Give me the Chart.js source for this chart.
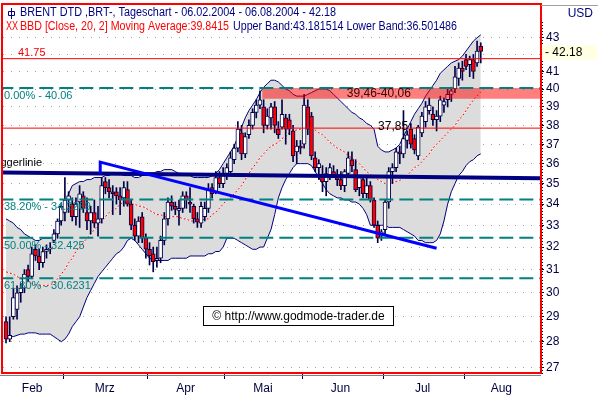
<!DOCTYPE html>
<html>
<head>
<meta charset="utf-8">
<script src="https://cdn.jsdelivr.net/npm/chart.js@4.4.1/dist/chart.umd.min.js"></script>
<style>
  body { margin: 0; background: #fff; }
  canvas { display: block; }
</style>
</head>
<body>
<canvas id="myChart" width="598" height="395"></canvas>
<script>
// BRENT DTD daily candles 06.02.2004 - 06.08.2004, index = trading day
const opens = [
  28.8, 28.1, 29.0, 29.3, 30.0, 30.2, 31.0, 30.7, 31.9, 31.6,
  31.3, 31.8, 31.9, 32.3, 32.6, 33.2, 33.6, 34.2, 34.0, 33.4,
  34.1, 34.4, 33.6, 33.2, 33.6, 33.1, 33.3, 35.1, 34.8, 34.6,
  34.6, 34.4, 34.3, 34.7, 34.0, 33.0, 32.5, 33.4, 32.4, 31.9,
  31.7, 31.4, 31.5, 32.3, 33.3, 34.1, 33.9, 33.7, 33.8, 34.4,
  34.1, 33.9, 33.3, 33.1, 33.4, 33.8, 34.8, 34.6, 35.3, 35.0,
  35.5, 35.6, 36.2, 36.8, 37.6, 36.5, 37.5, 38.0, 38.7, 39.1,
  39.0, 38.0, 38.4, 39.0, 37.8, 37.9, 38.4, 38.3, 37.7, 36.6,
  36.9, 37.0, 39.0, 38.5, 36.3, 35.8, 35.4, 35.1, 35.4, 35.6,
  35.3, 35.2, 34.9, 35.5, 36.2, 35.7, 34.8, 35.2, 34.5, 34.9,
  34.2, 33.0, 32.5, 32.8, 34.1, 35.6, 35.8, 36.6, 36.5, 37.2,
  37.8, 37.3, 36.4, 37.6, 38.2, 38.8, 38.6, 38.3, 38.5, 39.1,
  39.4, 39.7, 40.0, 40.6, 41.2, 41.7, 41.4, 41.7, 41.5, 42.5
];
const highs = [
  29.0, 29.0, 30.2, 30.3, 30.4, 31.0, 31.2, 32.0, 32.1, 31.9,
  32.0, 32.1, 32.2, 32.8, 33.3, 34.0, 35.3, 34.6, 34.3, 34.3,
  34.9, 34.6, 34.3, 33.9, 34.2, 33.9, 35.3, 35.3, 35.2, 34.9,
  34.8, 34.8, 35.1, 35.1, 34.2, 33.3, 33.4, 33.6, 32.6, 32.2,
  32.0, 32.0, 32.5, 33.6, 34.3, 34.4, 34.1, 34.2, 34.6, 34.6,
  34.8, 34.0, 33.6, 34.1, 34.1, 35.0, 35.0, 35.6, 35.6, 35.8,
  36.0, 36.6, 37.0, 38.2, 38.0, 37.6, 38.3, 38.9, 39.4, 39.9,
  39.4, 38.9, 39.2, 39.3, 38.2, 39.4, 38.6, 38.6, 38.0, 37.2,
  37.2, 39.7, 39.4, 38.7, 36.6, 36.2, 35.9, 35.8, 36.0, 35.9,
  35.7, 35.6, 35.7, 36.6, 36.6, 36.2, 35.4, 35.4, 35.3, 35.1,
  34.3, 33.2, 32.8, 34.2, 35.8, 36.0, 36.8, 36.9, 38.8, 37.7,
  38.1, 37.5, 38.0, 38.7, 39.3, 39.5, 39.0, 38.8, 39.6, 39.5,
  40.0, 40.1, 41.3, 41.5, 41.6, 42.0, 41.9, 42.0, 42.8, 42.7
];
const lows = [
  27.95, 28.0, 28.9, 28.9, 29.6, 30.0, 30.5, 30.6, 31.4, 31.0,
  31.1, 31.5, 31.7, 32.2, 32.4, 33.0, 33.2, 33.6, 33.2, 33.0,
  32.9, 33.6, 32.8, 32.6, 32.9, 32.5, 33.1, 34.5, 34.3, 33.5,
  34.0, 33.5, 33.9, 33.9, 32.8, 32.3, 32.2, 32.2, 31.5, 31.2,
  30.9, 31.1, 31.3, 32.1, 33.0, 33.7, 33.5, 33.0, 33.6, 33.8,
  33.6, 33.1, 32.9, 32.9, 33.2, 33.6, 34.3, 34.5, 34.8, 34.8,
  35.2, 35.4, 36.0, 36.6, 36.2, 36.3, 37.3, 37.8, 38.4, 38.9,
  37.6, 37.8, 37.8, 37.6, 37.3, 37.8, 37.0, 37.5, 36.1, 36.0,
  36.5, 36.8, 37.5, 36.2, 35.6, 35.2, 34.6, 34.4, 35.2, 35.3,
  34.9, 34.7, 34.6, 35.3, 35.6, 34.6, 34.4, 34.3, 34.3, 34.1,
  32.9, 32.2, 32.3, 32.6, 33.8, 35.0, 35.6, 36.0, 36.3, 36.8,
  36.8, 36.5, 36.2, 37.4, 37.9, 38.6, 38.0, 37.7, 38.2, 38.7,
  39.0, 39.3, 39.8, 40.2, 40.5, 41.1, 40.7, 40.6, 41.3, 41.5
];
const closes = [
  28.1, 28.25, 29.8, 30.0, 30.2, 30.8, 30.7, 31.7, 31.6, 31.3,
  31.8, 31.9, 31.95, 32.6, 33.2, 33.9, 34.2, 34.4, 33.4, 34.0,
  34.5, 33.8, 33.2, 33.6, 33.1, 33.3, 34.9, 34.8, 34.6, 34.5,
  34.4, 34.2, 34.8, 34.0, 33.0, 32.5, 33.2, 32.4, 31.9, 31.6,
  31.35, 31.5, 32.3, 33.3, 34.1, 33.9, 33.75, 33.8, 34.4, 34.2,
  34.0, 33.3, 33.15, 33.9, 33.8, 34.7, 34.5, 35.3, 35.0, 35.5,
  35.8, 36.3, 36.8, 37.8, 36.5, 37.4, 38.0, 38.7, 39.1, 39.4,
  38.0, 38.5, 39.0, 38.0, 37.5, 38.6, 37.8, 37.8, 36.4, 36.9,
  36.8, 39.1, 37.8, 36.4, 35.8, 36.0, 35.1, 35.5, 35.8, 35.4,
  35.2, 34.9, 35.6, 36.3, 35.9, 34.7, 35.3, 34.5, 34.9, 34.2,
  33.0, 32.4, 32.7, 34.1, 35.6, 35.8, 36.6, 36.5, 37.3, 37.5,
  37.0, 36.7, 37.9, 38.5, 39.0, 39.1, 38.3, 38.5, 39.4, 39.3,
  39.7, 39.9, 40.7, 41.2, 41.0, 41.3, 41.7, 41.0, 42.2, 42.18
];

// Bollinger bands (Close, 20, 2)
const upperBand = [
  33.3, 33.2, 33.1, 32.9, 32.8, 32.6, 32.5, 32.4, 32.3, 32.3,
  32.4, 32.4, 32.4, 32.5, 32.8, 33.3, 33.9, 34.5, 34.9, 35.0,
  35.1, 35.1, 35.2, 35.2, 35.3, 35.3, 35.3, 35.4, 35.4, 35.5,
  35.5, 35.5, 35.4, 35.4, 35.4, 35.3, 35.3, 35.4, 35.5, 35.5,
  35.5, 35.6, 35.6, 35.7, 35.7, 35.7, 35.6, 35.5, 35.5, 35.4,
  35.4, 35.3, 35.3, 35.3, 35.3, 35.3, 35.4, 35.5, 35.7, 36.0,
  36.3, 36.6, 36.9, 37.4, 37.9, 38.4, 38.8, 39.1, 39.4, 39.8,
  40.1, 40.3, 40.5, 40.5, 40.4, 40.2, 40.0, 39.9, 39.7, 39.6,
  39.6, 39.6, 39.7, 39.8, 39.9, 40.0, 40.0, 40.0, 39.9, 39.7,
  39.5, 39.3, 39.1, 38.9, 38.7, 38.6, 38.4, 38.3, 38.1, 38.0,
  37.8, 36.9, 36.7, 36.6, 36.6, 36.7, 36.8, 37.0, 37.4, 37.8,
  38.2, 38.6, 38.9, 39.2, 39.6, 39.9, 40.2, 40.5, 40.9, 41.1,
  41.3, 41.5, 41.6, 41.7, 41.9, 42.2, 42.5, 42.8, 43.0, 43.18
];
const middleBand = [
  30.9, 30.85, 30.8, 30.7, 30.6, 30.55, 30.5, 30.4, 30.35, 30.3,
  30.3, 30.3, 30.35, 30.4, 30.6, 30.8, 31.0, 31.3, 31.5, 31.8,
  32.0, 32.2, 32.4, 32.6, 32.8, 33.0, 33.2, 33.4, 33.6, 33.7,
  33.8, 34.0, 34.1, 34.1, 34.0, 34.0, 33.9, 33.9, 33.8, 33.7,
  33.6, 33.5, 33.5, 33.4, 33.4, 33.4, 33.4, 33.4, 33.3, 33.3,
  33.2, 33.2, 33.2, 33.2, 33.3, 33.3, 33.5, 33.6, 33.8, 34.0,
  34.2, 34.3, 34.5, 34.7, 34.9, 35.2, 35.5, 35.8, 36.0, 36.3,
  36.5, 36.7, 36.9, 37.0, 37.1, 37.3, 37.4, 37.6, 37.7, 37.75,
  37.8, 37.85, 37.85, 37.8, 37.75, 37.6, 37.5, 37.3, 37.1, 36.95,
  36.8, 36.7, 36.6, 36.4, 36.3, 36.1, 36.0, 35.8, 35.6, 35.45,
  35.3, 35.2, 35.1, 35.0, 35.0, 35.05, 35.1, 35.15, 35.3, 35.4,
  35.6, 35.8, 35.9, 36.1, 36.3, 36.5, 36.8, 37.0, 37.2, 37.4,
  37.6, 37.8, 38.0, 38.3, 38.5, 38.8, 39.1, 39.4, 39.6, 39.84
];
const lowerBand = [
  28.2, 28.2, 28.2, 28.25, 28.3, 28.3, 28.35, 28.35, 28.35, 28.3,
  28.3, 28.3, 28.3, 28.2, 28.1, 28.0, 28.1, 28.3, 28.6, 28.8,
  29.0, 29.4, 29.8, 30.1, 30.4, 30.7, 30.9, 31.1, 31.3, 31.5,
  31.7, 31.8, 32.0, 32.3, 32.4, 32.3, 32.1, 31.9, 31.7, 31.5,
  31.4, 31.4, 31.4, 31.4, 31.4, 31.5, 31.5, 31.5, 31.5, 31.5,
  31.6, 31.6, 31.6, 31.6, 31.6, 31.7, 31.7, 31.8, 31.8, 32.0,
  32.4, 32.4, 32.4, 32.3, 32.2, 32.1, 32.0, 31.9, 31.9, 32.0,
  32.0, 32.4, 32.8, 33.5, 34.3, 34.8, 35.2, 35.5, 35.8, 36.0,
  36.0, 36.0, 36.0, 35.9, 35.6, 35.3, 35.0, 34.7, 34.5, 34.4,
  34.3, 34.3, 34.2, 34.2, 34.1, 34.1, 34.0, 33.8, 33.5, 33.0,
  33.0, 33.0, 33.0, 33.0, 32.9, 32.9, 32.9, 32.9, 32.8, 32.7,
  32.6, 32.5, 32.3, 32.3, 32.2, 32.2, 32.2, 32.3, 32.6, 33.2,
  34.0, 34.6, 35.0, 35.4, 35.6, 35.9, 36.1, 36.2, 36.4, 36.50
];

const yTicks = [27, 28, 29, 30, 31, 32, 33, 34, 35, 36, 37, 38, 39, 40, 41, 42, 43];
const monthTicks = [15.5, 38.5, 59.5, 80.5, 102.5, 124.5];
const monthNames = ['Feb', 'Mrz', 'Apr', 'Mai', 'Jun', 'Jul', 'Aug'];
const monthLabelPos = [7.1, 26.8, 48.8, 69.8, 90.9, 113.2, 134.6];

// drawn levels
const fibLevels = [40.06, 34.2269, 32.425, 30.6231];
const fibLabels = ['0.00% - 40.06', '38.20% - 34.2269', '50.00% - 32.425', '61.80% - 30.6231'];
const redLevels = [41.75, 37.85];
const zoneLevels = [39.46, 40.06];
const zoneStart = 69.6;
const triggerLine = [[-0.82, 35.55], [145.1, 35.27]];
const trendLine = [[25.6, 35.5], [25.6, 36.08], [117, 31.95]];

const xMin = -0.82, xMax = 145.1;
const yMin = 26.75, yMax = 45.1;

const navy = '#000080';
const candleLine = '#000048';
const fontFam = '"Liberation Sans", Arial, sans-serif';

const pts = (arr) => arr.map((v, i) => ({x: i, y: v}));
const flat = (level, from, to) => [{x: from, y: level}, {x: to, y: level}];
const near = (v, list) => list.some(t => Math.abs(t - v) < 0.01);

const lineSet = (data, color, width, order, extra) => Object.assign({
    type: 'line', data: data, borderColor: color, borderWidth: width,
    pointRadius: 0, tension: 0, fill: false, order: order
}, extra || {});

// squeeze a text into a given width (the original uses a narrow bitmap font)
const fitText = (c, text, x, y, w) => {
    const m = c.measureText(text).width;
    c.save();
    c.translate(x, y);
    c.scale(w / m, 1);
    c.fillText(text, 0, 0);
    c.restore();
}

const decor = {
    id: 'decor',
    beforeDraw(chart) {
        const c = chart.ctx;
        c.save();
        c.fillStyle = '#fff';
        c.fillRect(0, 0, chart.width, chart.height);
        c.restore();
    },
    afterDraw(chart) {
        const c = chart.ctx;
        const x = chart.scales.x, y = chart.scales.y;
        const a = chart.chartArea;
        c.save();
        c.textBaseline = 'middle';
        c.textAlign = 'left';

        // level texts
        c.font = '11px ' + fontFam;
        c.fillStyle = '#008080';
        fibLevels.forEach((lv, k) => c.fillText(fibLabels[k], a.left + 1, y.getPixelForValue(lv) + 8));
        c.fillStyle = '#ff0000';
        c.fillText('41.75', 18, y.getPixelForValue(redLevels[0]) - 6);
        c.fillStyle = '#000';
        c.font = '12px ' + fontFam;
        c.fillText('37,85', x.getPixelForValue(101.1), y.getPixelForValue(redLevels[1]) - 1);
        c.fillStyle = '#400000';
        c.fillText('39,46-40,06', x.getPixelForValue(92.6), y.getPixelForValue(39.76));

        // Triggerlinie, cut at the left edge
        c.save();
        c.beginPath();
        c.rect(a.left, a.top, a.right - a.left, a.bottom - a.top);
        c.clip();
        c.fillStyle = '#000';
        c.textAlign = 'right';
        c.font = '11px ' + fontFam;
        c.fillText('Triggerlinie', 42, y.getPixelForValue(triggerLine[0][1]) - 10);
        c.restore();

        // header
        c.strokeStyle = navy;
        c.lineWidth = 1;
        c.beginPath();
        c.moveTo(11.5, 8); c.lineTo(11.5, 19);
        c.moveTo(8.5, 11.5); c.lineTo(14.5, 11.5); c.lineTo(14.5, 15.5); c.lineTo(8.5, 15.5); c.closePath();
        c.stroke();
        c.font = '12px ' + fontFam;
        c.fillStyle = navy;
        fitText(c, 'BRENT DTD ,BRT-, Tageschart - 06.02.2004 - 06.08.2004 - 42.18', 20, 13, 316);
        c.fillStyle = '#ff0000';
        fitText(c, 'XX', 6, 27, 12);
        fitText(c, 'BBD [Close, 20, 2] Moving Average:39.8415', 20, 27, 209);
        c.fillStyle = navy;
        fitText(c, 'Upper Band:43.181514 Lower Band:36.501486', 233, 27, 224);

        // copyright box
        c.fillStyle = '#fff';
        c.fillRect(203, 306, 191, 20);
        c.strokeStyle = '#000';
        c.strokeRect(203.5, 306.5, 190, 19);
        c.fillStyle = '#000';
        c.textAlign = 'center';
        c.fillText('\u00a9 http://www.godmode-trader.de', 298.5, 316.5);

        // frame
        c.strokeStyle = '#808080';
        c.beginPath(); c.moveTo(0, 375.5); c.lineTo(541, 375.5); c.stroke();
        c.strokeStyle = '#ff0000';
        c.lineWidth = 2;
        c.strokeRect(2, 4, a.right - 1, a.bottom - 4 - 1);

        // right axis decorations
        c.lineWidth = 1;
        c.strokeStyle = '#000';
        c.setLineDash([1, 2]);
        c.beginPath(); c.moveTo(542.5, 22); c.lineTo(542.5, 374); c.stroke();
        c.setLineDash([]);
        c.strokeStyle = '#a0a0a0';
        c.beginPath(); c.moveTo(541, 5.5); c.lineTo(598, 5.5); c.stroke();
        c.fillStyle = navy;
        c.textAlign = 'right';
        c.fillText('USD', 593, 14);
        const py = y.getPixelForValue(closes[closes.length - 1]);
        c.fillStyle = '#ffffe1';
        c.fillRect(542, py - 6, 55, 14);
        c.fillStyle = '#000';
        c.textAlign = 'left';
        c.fillText('- 42.18', 545, py + 1);
        c.restore();
    }
};

const grafico = () => {
    let ctx = document.getElementById('myChart').getContext('2d');

    const wicks = closes.map((c, i) => ({x: i, y: [lows[i], highs[i]]}));
    const bodies = closes.map((c, i) => ({x: i, y: [Math.min(opens[i], c), Math.max(opens[i], c)]}));
    const bodyColors = closes.map((c, i) => c < opens[i] ? '#ff0000' : '#ffffff');

    const datasets = [
        lineSet(pts(upperBand), navy, 1, 30, {fill: '+1', backgroundColor: '#dcdcdc'}),
        lineSet(pts(lowerBand), navy, 1, 29),
        lineSet(pts(middleBand), '#ffffff', 1, 28),
        lineSet(pts(middleBand), '#ff0000', 1, 27, {borderDash: [2, 2]}),
        {type: 'bar', data: wicks, backgroundColor: candleLine, barThickness: 1, grouped: false, order: 20},
        {type: 'bar', data: bodies, backgroundColor: bodyColors, borderColor: candleLine, borderWidth: 1,
         borderSkipped: false, barThickness: 4, grouped: false, order: 19},
        lineSet(flat(zoneLevels[0], zoneStart, xMax + 5), 'rgba(0,0,0,0)', 1, 10),
        lineSet(flat(zoneLevels[1], zoneStart, xMax + 5), 'rgba(0,0,0,0)', 1, 9, {fill: '-1', backgroundColor: 'rgba(255,0,0,0.5)'})
    ];
    fibLevels.forEach(lv => datasets.push(lineSet(flat(lv, xMin - 1, xMax + 1), '#008080', 2, 5, {borderDash: [14, 6]})));
    redLevels.forEach(lv => datasets.push(lineSet(flat(lv, xMin - 1, xMax + 1), '#ff0000', 1, 4)));
    datasets.push(lineSet(triggerLine.map(p => ({x: p[0], y: p[1]})), navy, 4, 3));
    datasets.push(lineSet(trendLine.map(p => ({x: p[0], y: p[1]})), '#0000ff', 3, 2));

    new Chart(ctx, {
        type: 'bar',
        data: {datasets: datasets},
        options: {
            responsive: false,
            devicePixelRatio: 1,
            animation: false,
            layout: {padding: {left: 3, top: 4, right: 0, bottom: 0}},
            plugins: {legend: {display: false}, tooltip: {enabled: false}},
            scales: {
                x: {
                    type: 'linear', min: xMin, max: xMax, offset: false,
                    afterBuildTicks: (s) => { s.ticks = monthTicks.concat(monthLabelPos).sort((p, q) => p - q).map(v => ({value: v})); },
                    afterFit: (s) => { s.height = 21; s.paddingLeft = 0; s.paddingRight = 0; },
                    grid: {
                        drawOnChartArea: false, tickLength: 5, offset: false,
                        tickColor: (c) => (c.tick && near(c.tick.value, monthTicks)) ? '#000040' : 'rgba(0,0,0,0)'
                    },
                    border: {display: false},
                    ticks: {
                        autoSkip: false, maxRotation: 0, minRotation: 0, padding: 2, color: '#000040',
                        font: {family: fontFam, size: 12},
                        callback: (v) => { const k = monthLabelPos.findIndex(p => Math.abs(p - v) < 0.01); return k < 0 ? '' : monthNames[k]; }
                    }
                },
                y: {
                    type: 'logarithmic', position: 'right', min: yMin, max: yMax,
                    afterBuildTicks: (s) => { s.ticks = yTicks.map(v => ({value: v})); },
                    afterFit: (s) => { s.width = 58; s.paddingTop = 0; s.paddingBottom = 0; },
                    grid: {color: '#a0a0a0', lineWidth: 1, tickLength: 4, tickColor: '#000040'},
                    border: {display: false, dash: [1, 7]},
                    ticks: {
                        autoSkip: false, padding: 2, color: '#000040',
                        font: {family: fontFam, size: 12},
                        callback: (v) => String(v)
                    }
                }
            }
        },
        plugins: [decor]
    });
}

window.addEventListener('load', grafico);
</script>
</body>
</html>
